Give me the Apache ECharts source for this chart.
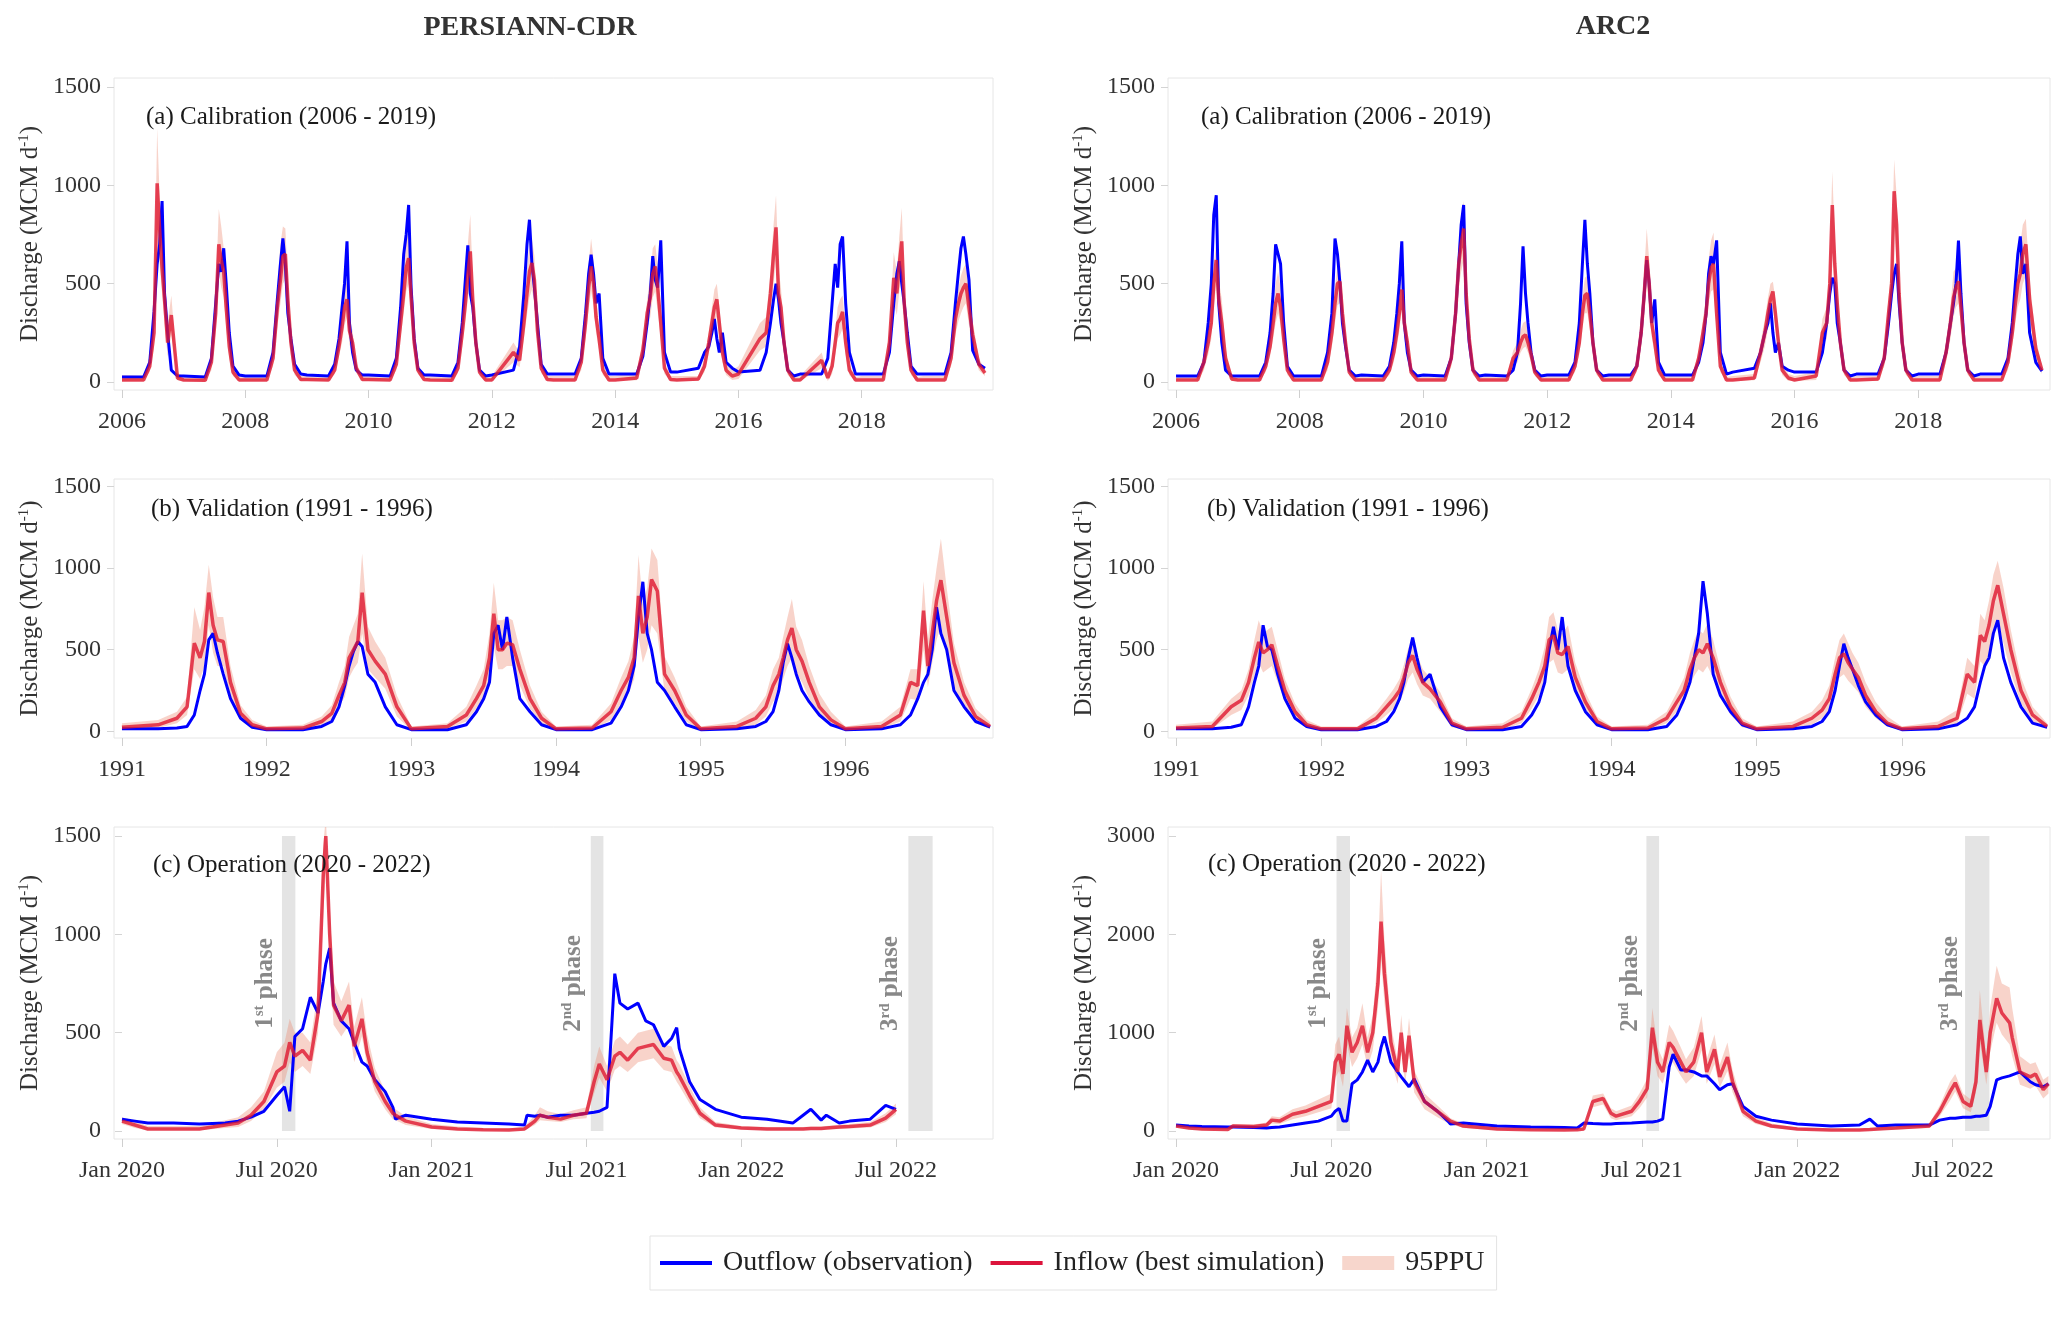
<!DOCTYPE html>
<html>
<head>
<meta charset="utf-8">
<script src="https://cdn.jsdelivr.net/npm/echarts@6.0.0/dist/echarts.min.js"></script>
<style>
  html, body { margin: 0; padding: 0; background: #fff; }
  #chart { width: 2067px; height: 1317px; }
</style>
</head>
<body>
<div id="chart"></div>
<script>
// ---- sampling grids (year + fraction of year) ----
const calYears = [2006, 2007, 2008, 2009, 2010, 2011, 2012, 2013, 2014, 2015, 2016, 2017, 2018, 2019];
const calOffsets = [0.00, 0.35, 0.45, 0.52, 0.57, 0.61, 0.65, 0.69, 0.74, 0.80, 0.90];
const valYears = [1991, 1992, 1993, 1994, 1995, 1996];
const valOffsets = [0.00, 0.25, 0.38, 0.45, 0.50, 0.54, 0.57, 0.60, 0.63, 0.66, 0.70, 0.75, 0.82, 0.90];

// tick labels
const calTicks = [2006, 2008, 2010, 2012, 2014, 2016, 2018];
const valTicks = [1991, 1992, 1993, 1994, 1995, 1996];
const opTicks = [0, 6, 12, 18, 24, 30];            // months since Jan 2020
const opTickLabels = ['Jan 2020', 'Jul 2020', 'Jan 2021', 'Jul 2021', 'Jan 2022', 'Jul 2022'];
const yTicks1500 = [0, 500, 1000, 1500];
const yTicks3000 = [0, 1000, 2000, 3000];

// ---- PERSIANN-CDR calibration (one line per year, last value = Jan 2020) ----
const pcObs = [
  25, 25, 100, 360, 600, 700, 920, 450, 250, 60, 30,
  30, 25, 120, 400, 600, 560, 680, 500, 250, 80, 35,
  30, 30, 150, 420, 600, 730, 600, 350, 220, 90, 40,
  35, 30, 90, 220, 380, 500, 715, 300, 150, 60, 35,
  35, 30, 120, 380, 650, 750, 900, 480, 220, 70, 35,
  35, 30, 100, 300, 520, 695, 450, 380, 200, 60, 30,
  35, 60, 180, 450, 700, 825, 600, 480, 300, 90, 40,
  40, 40, 120, 350, 550, 647, 550, 400, 450, 120, 40,
  40, 40, 130, 300, 450, 640, 520, 480, 720, 150, 50,
  50, 70, 150, 180, 250, 320, 220, 150, 250, 100, 70,
  50, 60, 150, 300, 420, 500, 420, 300, 200, 60, 30,
  40, 40, 120, 400, 600, 480, 700, 740, 400, 150, 40,
  40, 40, 150, 400, 550, 614, 500, 400, 250, 80, 40,
  40, 40, 150, 400, 560, 680, 740, 650, 520, 160, 90,
  70
];
const pcSim = [
  10, 10, 80, 250, 1010, 780, 580, 420, 200, 340, 20,
  10, 8, 100, 350, 700, 620, 560, 380, 180, 50, 10,
  10, 10, 120, 380, 520, 640, 650, 420, 200, 60, 12,
  12, 10, 60, 180, 280, 380, 420, 260, 200, 70, 12,
  12, 10, 90, 300, 450, 580, 630, 430, 200, 60, 12,
  10, 8, 70, 250, 400, 540, 664, 420, 200, 50, 10,
  10, 150, 110, 300, 450, 560, 605, 520, 260, 70, 12,
  10, 10, 100, 300, 480, 588, 500, 330, 220, 60, 10,
  10, 20, 160, 350, 430, 550, 588, 480, 300, 70, 12,
  10, 15, 80, 200, 300, 380, 420, 300, 150, 60, 30,
  40, 220, 250, 450, 650, 786, 450, 380, 200, 60, 10,
  10, 110, 20, 80, 200, 300, 320, 356, 200, 60, 10,
  10, 10, 200, 529, 450, 600, 715, 400, 200, 60, 10,
  10, 10, 120, 320, 400, 450, 480, 500, 380, 240, 90,
  45
];
const pcHi = [
  35, 30, 130, 350, 1290, 950, 720, 560, 300, 440, 45,
  30, 25, 150, 450, 880, 790, 680, 480, 250, 80, 30,
  30, 30, 170, 480, 700, 790, 780, 520, 280, 90, 30,
  35, 30, 90, 240, 370, 480, 510, 330, 260, 100, 30,
  35, 30, 130, 380, 580, 720, 770, 540, 260, 90, 30,
  30, 25, 110, 320, 520, 700, 850, 520, 260, 80, 25,
  30, 200, 150, 400, 580, 700, 730, 640, 340, 100, 30,
  30, 30, 140, 380, 600, 730, 620, 420, 290, 90, 30,
  30, 50, 220, 420, 540, 680, 700, 600, 380, 100, 30,
  30, 30, 120, 260, 380, 470, 500, 380, 210, 90, 60,
  80, 300, 330, 560, 800, 950, 580, 480, 270, 90, 25,
  30, 150, 40, 120, 260, 380, 420, 440, 260, 90, 25,
  30, 30, 260, 660, 560, 740, 885, 500, 270, 90, 25,
  30, 30, 170, 400, 480, 540, 580, 600, 460, 310, 120,
  65
];
const pcLo = [
  5, 5, 50, 180, 800, 600, 450, 300, 130, 240, 8,
  5, 3, 60, 260, 560, 480, 430, 280, 120, 30, 4,
  5, 5, 80, 280, 400, 500, 520, 320, 140, 35, 5,
  5, 5, 40, 130, 200, 290, 330, 190, 140, 45, 5,
  5, 5, 60, 230, 350, 460, 500, 340, 140, 40, 5,
  5, 3, 45, 180, 300, 420, 520, 320, 140, 30, 4,
  5, 100, 75, 220, 340, 430, 470, 400, 190, 45, 5,
  5, 5, 60, 220, 370, 460, 390, 250, 160, 35, 4,
  5, 8, 110, 270, 330, 430, 460, 360, 220, 40, 5,
  5, 5, 50, 150, 230, 290, 330, 230, 100, 35, 10,
  15, 160, 180, 340, 500, 620, 350, 280, 140, 35, 3,
  5, 70, 5, 40, 140, 220, 240, 270, 140, 35, 3,
  5, 5, 140, 400, 340, 460, 550, 300, 140, 35, 3,
  5, 5, 80, 240, 310, 350, 380, 400, 290, 170, 60,
  30
];

// ---- ARC2 calibration ----
const acObs = [
  30, 30, 100, 300, 500, 850, 950, 400, 200, 60, 30,
  30, 30, 100, 250, 450, 700, 650, 600, 300, 80, 30,
  30, 30, 150, 350, 729, 650, 500, 300, 180, 60, 30,
  35, 30, 80, 200, 350, 500, 715, 300, 150, 60, 30,
  35, 30, 120, 350, 600, 800, 900, 400, 200, 60, 30,
  35, 30, 60, 150, 400, 690, 450, 300, 150, 60, 30,
  35, 35, 100, 300, 600, 825, 600, 450, 200, 60, 30,
  35, 35, 80, 250, 450, 620, 500, 300, 420, 100, 35,
  35, 35, 100, 200, 350, 550, 640, 600, 720, 150, 40,
  50, 70, 150, 250, 300, 400, 250, 150, 200, 80, 60,
  50, 50, 150, 300, 450, 530, 500, 300, 200, 60, 30,
  40, 40, 120, 300, 450, 550, 600, 400, 200, 60, 30,
  40, 40, 150, 300, 400, 500, 719, 450, 200, 60, 30,
  40, 40, 120, 300, 500, 650, 740, 550, 600, 250, 100,
  55
];
const acSim = [
  10, 10, 100, 200, 300, 500, 620, 420, 300, 120, 15,
  10, 10, 80, 180, 300, 400, 450, 380, 220, 60, 10,
  10, 10, 100, 250, 400, 500, 510, 350, 200, 50, 10,
  10, 10, 60, 150, 250, 350, 470, 300, 200, 50, 10,
  10, 10, 120, 350, 600, 700, 780, 450, 220, 60, 10,
  10, 10, 120, 150, 200, 230, 240, 200, 140, 50, 10,
  10, 10, 80, 200, 350, 440, 450, 350, 200, 60, 10,
  10, 10, 80, 250, 450, 640, 500, 300, 200, 60, 10,
  10, 10, 120, 250, 350, 500, 580, 600, 350, 80, 10,
  10, 20, 150, 250, 350, 420, 460, 350, 200, 60, 20,
  10, 30, 250, 300, 500, 900, 600, 400, 200, 60, 10,
  10, 15, 120, 350, 500, 970, 800, 450, 200, 60, 10,
  10, 10, 150, 300, 430, 480, 512, 380, 200, 60, 10,
  10, 10, 100, 250, 400, 500, 550, 650, 700, 420, 170,
  60
];
const acHi = [
  30, 30, 140, 260, 380, 600, 700, 520, 420, 170, 30,
  30, 30, 110, 240, 380, 500, 560, 480, 280, 90, 25,
  30, 30, 140, 320, 480, 590, 620, 440, 260, 80, 25,
  30, 30, 90, 200, 320, 440, 560, 380, 260, 80, 25,
  30, 30, 160, 420, 700, 850, 920, 560, 280, 90, 25,
  30, 30, 160, 200, 260, 300, 310, 260, 190, 80, 25,
  30, 30, 110, 260, 430, 530, 540, 430, 260, 90, 25,
  30, 30, 110, 320, 560, 780, 620, 380, 260, 90, 25,
  30, 30, 160, 320, 440, 620, 720, 760, 440, 110, 25,
  30, 40, 200, 320, 430, 500, 510, 420, 260, 90, 40,
  30, 50, 320, 380, 620, 1070, 740, 490, 260, 90, 25,
  30, 30, 170, 430, 620, 1130, 950, 560, 260, 90, 25,
  30, 30, 200, 380, 560, 580, 620, 460, 260, 90, 25,
  30, 30, 140, 320, 500, 620, 700, 800, 830, 520, 220,
  80
];
const acLo = [
  5, 5, 60, 140, 220, 380, 500, 320, 220, 80, 5,
  5, 5, 50, 130, 220, 300, 350, 290, 160, 35, 3,
  5, 5, 60, 180, 300, 390, 400, 260, 140, 30, 3,
  5, 5, 35, 100, 180, 260, 370, 220, 140, 30, 3,
  5, 5, 80, 270, 480, 560, 620, 350, 160, 35, 3,
  5, 5, 80, 100, 150, 170, 180, 150, 100, 30, 3,
  5, 5, 50, 140, 270, 350, 350, 270, 140, 35, 3,
  5, 5, 50, 180, 340, 500, 390, 230, 140, 35, 3,
  5, 5, 80, 180, 260, 400, 460, 470, 260, 50, 3,
  5, 8, 100, 180, 270, 330, 380, 280, 140, 35, 5,
  5, 10, 180, 220, 380, 720, 460, 310, 140, 35, 3,
  5, 5, 80, 260, 380, 780, 620, 350, 140, 35, 3,
  5, 5, 100, 220, 330, 380, 400, 290, 140, 35, 3,
  5, 5, 60, 180, 300, 380, 420, 500, 540, 320, 120,
  40
];

// ---- PERSIANN-CDR validation (last value = Jan 1997) ----
const pvObs = [
  15, 15, 20, 30, 100, 250, 350, 560, 600, 480, 350, 200, 80, 25,
  10, 10, 30, 60, 150, 280, 400, 490, 550, 520, 350, 300, 150, 40,
  10, 10, 40, 120, 200, 300, 600, 650, 500, 700, 450, 200, 120, 40,
  10, 10, 50, 150, 250, 400, 700, 916, 600, 500, 300, 250, 150, 40,
  10, 15, 30, 60, 120, 250, 420, 537, 450, 350, 250, 180, 100, 40,
  10, 15, 40, 100, 200, 300, 350, 500, 760, 600, 500, 250, 150, 60,
  25
];
const pvSim = [
  25, 40, 80, 150, 540, 450, 550, 850, 650, 560, 550, 300, 110, 40,
  15, 20, 60, 110, 220, 300, 450, 500, 550, 850, 500, 430, 350, 150,
  15, 30, 100, 200, 280, 450, 720, 500, 500, 540, 530, 380, 200, 80,
  15, 20, 120, 250, 330, 450, 830, 600, 700, 930, 860, 350, 250, 100,
  15, 30, 80, 150, 280, 350, 450, 560, 633, 500, 430, 300, 150, 70,
  15, 30, 100, 300, 280, 740, 400, 600, 800, 926, 700, 420, 220, 90,
  30
];
const pvHi = [
  50, 70, 120, 210, 760, 620, 760, 1020, 820, 700, 700, 400, 160, 70,
  30, 40, 90, 160, 300, 400, 580, 650, 720, 1090, 640, 550, 450, 220,
  30, 50, 150, 280, 380, 600, 910, 680, 680, 700, 680, 500, 280, 120,
  30, 40, 170, 330, 430, 580, 1080, 780, 880, 1120, 1050, 460, 330, 150,
  30, 60, 130, 220, 380, 450, 580, 700, 810, 640, 560, 400, 230, 120,
  30, 60, 150, 380, 380, 920, 560, 800, 1000, 1180, 880, 540, 300, 140,
  55
];
const pvLo = [
  10, 20, 50, 100, 380, 320, 400, 650, 480, 400, 400, 200, 70, 20,
  5, 8, 30, 70, 150, 210, 330, 380, 420, 600, 380, 330, 260, 90,
  5, 15, 60, 140, 200, 330, 520, 380, 380, 400, 400, 280, 140, 50,
  5, 8, 70, 170, 230, 320, 580, 420, 500, 650, 600, 240, 170, 60,
  5, 15, 40, 90, 180, 230, 320, 400, 450, 360, 300, 200, 90, 40,
  5, 15, 60, 200, 190, 500, 270, 420, 560, 650, 480, 280, 140, 50,
  15
];

// ---- ARC2 validation ----
const avObs = [
  15, 15, 25, 40, 150, 300, 400, 650, 520, 500, 350, 200, 80, 30,
  10, 10, 30, 60, 120, 200, 300, 450, 574, 450, 300, 350, 150, 40,
  10, 10, 30, 100, 180, 300, 500, 640, 500, 700, 400, 250, 120, 40,
  10, 10, 30, 100, 200, 300, 450, 600, 920, 720, 350, 220, 120, 40,
  10, 15, 30, 60, 120, 250, 400, 537, 450, 380, 280, 180, 100, 40,
  10, 15, 40, 80, 150, 300, 400, 450, 600, 680, 450, 300, 150, 50,
  25
];
const avSim = [
  20, 30, 150, 190, 300, 450, 547, 480, 500, 530, 400, 250, 120, 40,
  15, 15, 80, 150, 200, 250, 330, 420, 465, 380, 300, 260, 180, 50,
  15, 25, 80, 200, 300, 400, 560, 588, 480, 470, 520, 330, 180, 60,
  15, 20, 80, 180, 250, 380, 450, 500, 480, 537, 450, 300, 150, 50,
  15, 30, 80, 130, 200, 350, 450, 475, 420, 380, 330, 220, 120, 50,
  15, 30, 80, 350, 300, 588, 550, 650, 800, 895, 720, 500, 250, 100,
  30
];
const avHi = [
  40, 60, 200, 250, 380, 560, 680, 600, 620, 640, 500, 320, 170, 70,
  30, 30, 120, 200, 260, 320, 410, 510, 560, 470, 380, 330, 240, 80,
  30, 50, 120, 260, 380, 520, 700, 730, 620, 600, 650, 420, 240, 90,
  30, 40, 120, 240, 330, 480, 560, 620, 600, 660, 560, 380, 210, 80,
  30, 60, 120, 190, 280, 450, 560, 600, 540, 480, 420, 300, 180, 90,
  30, 60, 130, 450, 400, 720, 680, 800, 960, 1045, 880, 620, 330, 150,
  50
];
const avLo = [
  8, 15, 100, 130, 220, 340, 420, 360, 380, 400, 300, 180, 80, 20,
  5, 5, 50, 100, 140, 180, 240, 320, 360, 290, 220, 200, 120, 25,
  5, 10, 50, 140, 220, 300, 420, 440, 360, 350, 380, 240, 120, 30,
  5, 8, 50, 120, 170, 280, 340, 380, 360, 400, 330, 210, 100, 25,
  5, 15, 40, 80, 130, 250, 330, 350, 310, 280, 240, 150, 80, 30,
  5, 15, 40, 230, 200, 430, 400, 480, 600, 680, 540, 360, 170, 60,
  15
];

// ---- PERSIANN-CDR operation (x = months since Jan 2020) ----
const poX = [
  0, 0.5, 1, 2, 3, 4, 4.5, 5, 5.5, 6,
  6.3, 6.5, 6.7, 7, 7.3, 7.6, 7.8, 7.9, 8.05, 8.2,
  8.5, 8.8, 9, 9.3, 9.5, 9.8, 10.2, 10.5, 10.6, 11,
  12, 13, 14, 15, 15.6, 15.7, 16, 16.2, 16.5, 17,
  17.5, 18, 18.3, 18.5, 18.8, 19.1, 19.3, 19.6, 20, 20.3,
  20.6, 21, 21.3, 21.5, 21.6, 22, 22.4, 23, 24, 25,
  26, 26.4, 26.7, 27.1, 27.3, 27.8, 28.2, 29, 29.6, 30
];
const poObs = [
  60, 50, 40, 40, 35, 40, 50, 70, 100, 180,
  225, 100, 480, 520, 680, 600, 760, 850, 930, 650,
  560, 520, 450, 350, 330, 260, 200, 120, 60, 80,
  60, 45, 40, 35, 30, 80, 75, 80, 70, 80,
  80, 90, 95, 100, 120, 800, 650, 620, 650, 560,
  540, 430, 470, 525, 420, 250, 160, 110, 70, 60,
  40, 80, 110, 55, 80, 40, 50, 60, 130, 110
];
const poSim = [
  50, 30, 10, 10, 10, 30, 40, 80, 150, 300,
  330, 450, 380, 410, 360, 600, 1300, 1500, 1000, 640,
  560, 640, 430, 570, 400, 250, 150, 90, 80, 50,
  20, 10, 6, 5, 10, 20, 50, 80, 70, 60,
  80, 90, 250, 340, 260, 380, 400, 360, 420, 430,
  440, 370, 360, 300, 280, 180, 90, 30, 15, 10,
  10, 10, 12, 12, 15, 20, 22, 30, 65, 110
];
const poHi = [
  70, 50, 25, 25, 25, 55, 70, 120, 200, 400,
  450, 570, 500, 500, 450, 720, 1450, 1600, 1150, 760,
  660, 760, 530, 680, 490, 320, 200, 130, 110, 75,
  35, 22, 15, 14, 20, 35, 80, 120, 100, 85,
  105, 120, 330, 430, 330, 460, 480, 440, 500, 510,
  520, 440, 430, 360, 340, 230, 120, 45, 25, 20,
  20, 20, 22, 22, 25, 32, 35, 45, 90, 140
];
const poLo = [
  35, 15, 3, 3, 3, 15, 20, 50, 110, 220,
  250, 350, 300, 330, 290, 500, 1100, 1350, 870, 540,
  480, 540, 350, 480, 330, 200, 110, 60, 55, 30,
  10, 3, 2, 2, 4, 10, 30, 55, 50, 45,
  60, 65, 190, 270, 200, 310, 330, 300, 350, 360,
  370, 310, 300, 250, 230, 140, 65, 18, 8, 4,
  4, 4, 5, 5, 7, 10, 12, 18, 45, 85
];

// ---- ARC2 operation ----
const aoX = [
  0, 0.5, 1, 2, 2.2, 3, 3.5, 3.7, 4, 4.5,
  5, 5.5, 6, 6.15, 6.3, 6.45, 6.6, 6.8, 7, 7.2,
  7.4, 7.6, 7.8, 7.92, 8.05, 8.3, 8.56, 8.7, 8.85, 9,
  9.2, 9.6, 10.1, 10.5, 10.6, 11.1, 12.4, 13.7, 15, 15.5,
  15.75, 16.1, 16.5, 16.8, 17, 17.6, 17.9, 18.2, 18.4, 18.6,
  18.8, 19.05, 19.2, 19.5, 19.7, 20, 20.3, 20.5, 20.8, 21,
  21.3, 21.5, 21.9, 22.4, 23, 24, 25.3, 26.4, 26.8, 27.1,
  27.8, 29.1, 29.5, 29.9, 30.1, 30.4, 30.7, 30.9, 31.05, 31.3,
  31.45, 31.7, 31.9, 32.2, 32.3, 32.6, 33, 33.2, 33.5, 33.7
];
const aoObs = [
  60, 50, 45, 40, 40, 35, 30, 35, 40, 60,
  80, 100, 150, 200, 230, 100, 100, 480, 520, 600,
  720, 600, 700, 850, 960, 700, 600, 550, 500, 450,
  530, 300, 200, 100, 70, 80, 50, 40, 35, 30,
  80, 75, 70, 70, 75, 80, 85, 90, 90, 100,
  120, 650, 780, 620, 620, 600, 560, 560, 480, 420,
  470, 480, 250, 150, 110, 70, 50, 60, 120, 50,
  60, 60, 110, 130, 130, 140, 140, 150, 150, 160,
  250, 520, 540, 560, 570, 600, 500, 470, 450, 480
];
const aoSim = [
  50, 30, 20, 15, 50, 45, 60, 110, 100, 170,
  200, 250, 300, 700, 780, 580, 1070, 800, 900, 1070,
  800, 1000, 1500, 2130, 1600, 900, 600, 1000, 600, 970,
  500, 300, 200, 120, 100, 50, 20, 12, 10, 12,
  20, 300, 330, 180, 150, 200, 300, 430, 1050, 700,
  600, 900, 850, 700, 600, 700, 1000, 600, 830, 550,
  750, 500, 200, 100, 50, 20, 10, 10, 15, 20,
  30, 50, 200, 400, 490, 300, 250, 500, 1130, 600,
  1000, 1350, 1200, 1100, 950, 600, 550, 580, 420, 480
];
const aoHi = [
  70, 50, 35, 30, 70, 65, 85, 150, 140, 220,
  260, 320, 380, 880, 960, 720, 1250, 950, 1050, 1300,
  950, 1180, 1800, 2650, 1950, 1080, 720, 1180, 720, 1150,
  620, 380, 260, 160, 130, 75, 35, 25, 20, 22,
  35, 360, 380, 230, 200, 260, 380, 530, 1250, 850,
  730, 1080, 1020, 850, 730, 850, 1170, 730, 980, 670,
  900, 620, 260, 140, 75, 35, 22, 22, 28, 35,
  50, 75, 260, 500, 580, 380, 320, 620, 1430, 740,
  1250, 1680, 1500, 1460, 1250, 760, 680, 700, 520, 560
];
const aoLo = [
  35, 15, 8, 5, 30, 28, 40, 75, 70, 120,
  150, 190, 230, 540, 610, 450, 880, 650, 740, 880,
  650, 820, 1250, 1750, 1300, 730, 480, 820, 480, 800,
  390, 220, 140, 80, 70, 30, 8, 4, 3, 4,
  8, 240, 270, 130, 110, 150, 230, 340, 850, 560,
  480, 730, 690, 560, 480, 560, 820, 480, 680, 440,
  610, 390, 150, 70, 30, 8, 3, 3, 5, 8,
  15, 30, 150, 310, 400, 230, 190, 390, 900, 470,
  800, 1100, 980, 880, 760, 470, 430, 460, 330, 380
];

// reservoir filling phases (months since Jan 2020)
const phaseStart = [6.2, 18.17, 30.48];
const phaseEnd = [6.72, 18.66, 31.42];
const phaseNum = ['1', '2', '3'];
const phaseSup = ['st', 'nd', 'rd'];
const phaseLabelXP = [5.55, 17.5, 29.8];
const phaseLabelXA = [5.5, 17.55, 29.9];

// ---- styling ----
const FONT = '"Liberation Serif", "Times New Roman", serif';
const BLUE = '#0000ff';
const RED = 'rgba(222, 24, 48, 0.8)';
const PPU = 'rgba(236, 140, 115, 0.38)';
const BAR = '#e4e4e4';
const PHASE_TXT = '#6a6a6a';
const LINE_ICON = 'path://M0,0 L52,0 L52,4 L0,4 Z';

function seasonGrid(years, offsets, last) {
  const xs = [];
  years.forEach(y => offsets.forEach(o => xs.push(+(y + o).toFixed(3))));
  xs.push(last);
  return xs;
}
const calX = seasonGrid(calYears, calOffsets, 2020.0);
const valX = seasonGrid(valYears, valOffsets, 1997.0);

const colLeft = [114, 1168];
const colWidth = [879, 882];
const rowTop = [78, 479, 827];
const rowHeight = [312, 259, 312];

const panels = [
  { col: 0, row: 0, xs: calX, obs: pcObs, sim: pcSim, lo: pcLo, hi: pcHi, xMin: 2005.87, xMax: 2020.13, ticks: calTicks, yTop: 1500 },
  { col: 1, row: 0, xs: calX, obs: acObs, sim: acSim, lo: acLo, hi: acHi, xMin: 2005.87, xMax: 2020.13, ticks: calTicks, yTop: 1500 },
  { col: 0, row: 1, xs: valX, obs: pvObs, sim: pvSim, lo: pvLo, hi: pvHi, xMin: 1990.945, xMax: 1997.02, ticks: valTicks, yTop: 1500 },
  { col: 1, row: 1, xs: valX, obs: avObs, sim: avSim, lo: avLo, hi: avHi, xMin: 1990.945, xMax: 1997.02, ticks: valTicks, yTop: 1500 },
  { col: 0, row: 2, xs: poX, obs: poObs, sim: poSim, lo: poLo, hi: poHi, xMin: -0.31, xMax: 33.76, ticks: opTicks, yTop: 1500, op: true, labelX: phaseLabelXP },
  { col: 1, row: 2, xs: aoX, obs: aoObs, sim: aoSim, lo: aoLo, hi: aoHi, xMin: -0.31, xMax: 33.76, ticks: opTicks, yTop: 3000, op: true, labelX: phaseLabelXA }
];

const grids = [], xAxes = [], yAxes = [], series = [];

panels.forEach((p, i) => {
  grids.push({
    left: colLeft[p.col], top: rowTop[p.row], width: colWidth[p.col], height: rowHeight[p.row],
    show: true, borderColor: '#e6e6e6', borderWidth: 1, backgroundColor: '#fff', containLabel: false
  });
  const pad = p.yTop / 1500 * 41;
  xAxes.push({
    type: 'value', gridIndex: i, min: p.xMin, max: p.xMax,
    axisLine: { show: false, onZero: false },
    splitLine: { show: false },
    axisTick: { show: true, length: 8, customValues: p.ticks, lineStyle: { color: '#cfcfcf', width: 1 } },
    axisLabel: {
      customValues: p.ticks, margin: 20, fontSize: 24, fontFamily: FONT, color: '#333',
      formatter: v => p.op ? opTickLabels[opTicks.indexOf(v)] : String(Math.round(v))
    }
  });
  const yt = p.yTop === 3000 ? yTicks3000 : yTicks1500;
  yAxes.push({
    type: 'value', gridIndex: i, min: -pad, max: p.yTop * 1.0306,
    axisLine: { show: false },
    splitLine: { show: false },
    axisTick: { show: true, length: 7, customValues: yt, lineStyle: { color: '#d4d4d4', width: 1 } },
    axisLabel: { customValues: yt, margin: 13, fontSize: 24, fontFamily: FONT, color: '#333', formatter: v => String(v) },
    name: 'Discharge (MCM d{sup|-1})',
    nameLocation: 'middle', nameGap: 70, nameRotate: 90,
    nameTextStyle: {
      fontSize: 25, fontFamily: FONT, color: '#333',
      rich: { sup: { fontSize: 15, fontFamily: FONT, color: '#333', padding: [0, 0, 12, 0] } }
    }
  });

  if (p.op) {
    series.push({
      type: 'line', xAxisIndex: i, yAxisIndex: i, data: [], z: 1, silent: true,
      markArea: {
        silent: true,
        itemStyle: { color: BAR },
        data: phaseStart.map((s, k) => [{ xAxis: s, yAxis: 0 }, { xAxis: phaseEnd[k], yAxis: p.yTop }])
      }
    });
  }

  const xs = p.xs, lo = p.lo, hi = p.hi;
  series.push({
    type: 'custom', name: '95PPU', xAxisIndex: i, yAxisIndex: i, z: 2, silent: true, clip: true,
    itemStyle: { color: PPU },
    data: [[xs[0], lo[0]]],
    renderItem: (params, api) => {
      const pts = [];
      for (let k = 0; k < xs.length; k++) pts.push(api.coord([xs[k], hi[k]]));
      for (let k = xs.length - 1; k >= 0; k--) pts.push(api.coord([xs[k], lo[k]]));
      return { type: 'polygon', shape: { points: pts }, style: { fill: PPU } };
    }
  });
  series.push({
    type: 'line', name: 'Outflow (observation)', xAxisIndex: i, yAxisIndex: i, z: 3,
    symbol: 'none', showSymbol: false, silent: true,
    lineStyle: { color: BLUE, width: 3 }, itemStyle: { color: BLUE },
    data: xs.map((x, k) => [x, p.obs[k]])
  });
  series.push({
    type: 'line', name: 'Inflow (best simulation)', xAxisIndex: i, yAxisIndex: i, z: 4,
    symbol: 'none', showSymbol: false, silent: true,
    lineStyle: { color: RED, width: 3.5 }, itemStyle: { color: RED },
    data: xs.map((x, k) => [x, p.sim[k]])
  });

  if (p.op) {
    series.push({
      type: 'scatter', xAxisIndex: i, yAxisIndex: i, z: 5, silent: true,
      symbolSize: 0,
      data: p.labelX.map(x => [x, p.yTop / 2]),
      label: {
        show: true, position: 'inside', rotate: 90,
        formatter: prm => '{n|' + phaseNum[prm.dataIndex] + '}{s|' + phaseSup[prm.dataIndex] + '}{n| phase}',
        rich: {
          n: { fontSize: 25, fontWeight: 'bold', fontFamily: FONT, color: PHASE_TXT },
          s: { fontSize: 15, fontWeight: 'bold', fontFamily: FONT, color: PHASE_TXT, padding: [0, 0, 12, 0] }
        }
      }
    });
  }
});

const panelTitles = [
  ['(a) Calibration (2006 - 2019)', 146, 117],
  ['(a) Calibration (2006 - 2019)', 1201, 117],
  ['(b) Validation (1991 - 1996)', 151, 509],
  ['(b) Validation (1991 - 1996)', 1207, 509],
  ['(c) Operation (2020 - 2022)', 153, 865],
  ['(c) Operation (2020 - 2022)', 1208, 864]
];

const graphic = panelTitles.map(([t, x, y]) => ({
  type: 'text', x: x, y: y, z: 10, silent: true,
  style: { text: t, fontSize: 25, fontFamily: FONT, fill: '#1a1a1a', align: 'left', verticalAlign: 'middle' }
}));
graphic.push({
  type: 'text', x: 530, y: 28, silent: true,
  style: { text: 'PERSIANN-CDR', fontSize: 28, fontWeight: 'bold', fontFamily: FONT, fill: '#333', align: 'center', verticalAlign: 'middle' }
});
graphic.push({
  type: 'text', x: 1613, y: 27, silent: true,
  style: { text: 'ARC2', fontSize: 28, fontWeight: 'bold', fontFamily: FONT, fill: '#333', align: 'center', verticalAlign: 'middle' }
});

const chart = echarts.init(document.getElementById('chart'), null, { renderer: 'canvas' });
chart.setOption({
  animation: false,
  backgroundColor: '#fff',
  grid: grids,
  xAxis: xAxes,
  yAxis: yAxes,
  series: series,
  graphic: graphic,
  legend: {
    left: 650, top: 1236,
    padding: [13, 12, 13, 10],
    itemWidth: 52, itemHeight: 14, itemGap: 18,
    borderColor: '#e3e3e3', borderWidth: 1,
    selectedMode: false,
    textStyle: { fontFamily: FONT, fontSize: 28, color: '#222', padding: [0, 0, 0, 6] },
    data: [
      { name: 'Outflow (observation)', icon: LINE_ICON, itemStyle: { color: BLUE, borderWidth: 0 } },
      { name: 'Inflow (best simulation)', icon: LINE_ICON, itemStyle: { color: '#dc143c', borderWidth: 0 } },
      { name: '95PPU', icon: 'rect', itemStyle: { color: '#f7d6cc', borderWidth: 0 } }
    ]
  }
});
</script>
</body>
</html>
